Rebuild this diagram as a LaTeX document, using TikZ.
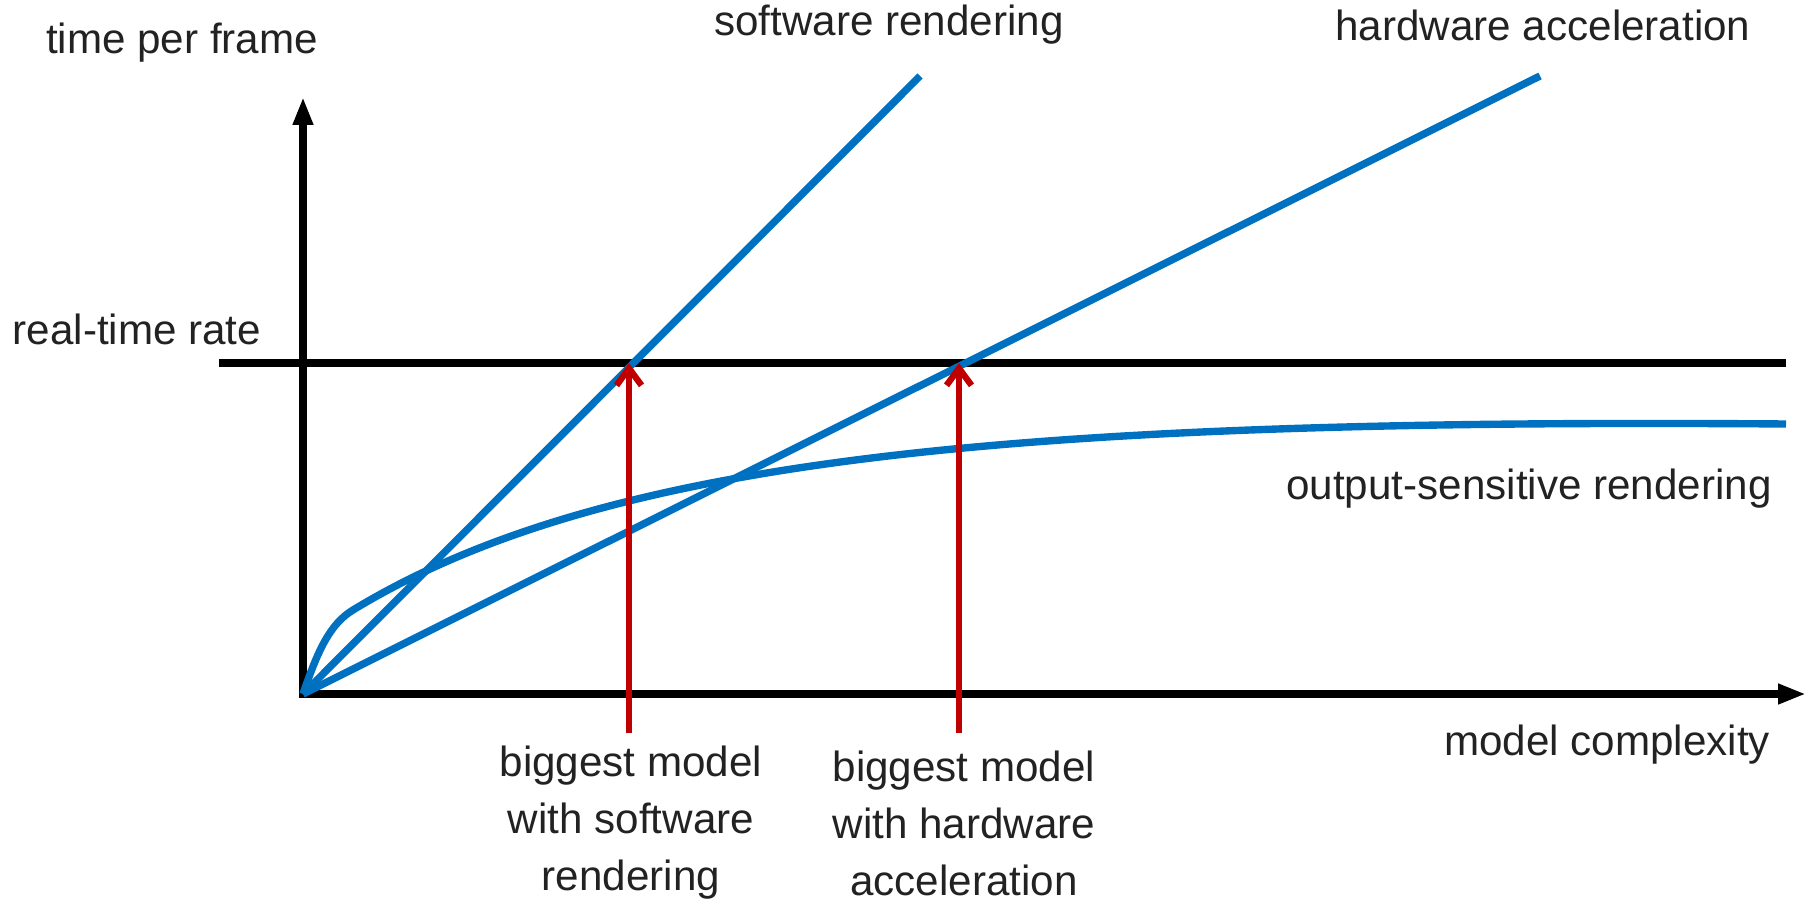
\documentclass[tikz,border=0pt]{standalone}
\usepackage{fontspec}
\setmainfont{Liberation Sans}
\usetikzlibrary{arrows.meta, positioning}
\definecolor{curveblue}{RGB}{0,112,192}
\definecolor{limitred}{RGB}{192,0,0}
\definecolor{labelgray}{RGB}{34,34,34}

\begin{document}
\begin{tikzpicture}[
    x=0.1mm, y=-0.1mm,
    axis/.style={line width=2pt, {Triangle[length=2.8mm, width=1.9mm]}-{Triangle[length=2.8mm, width=1.9mm]}},
    rateline/.style={line width=2pt},
    curve/.style={line width=2.1pt, color=curveblue},
    limitarr/.style={line width=1.8pt, color=limitred, -{Straight Barb[length=1.7mm, width=2.5mm]}},
    lbl/.style={font=\fontsize{12}{16.2}\selectfont, text=labelgray, inner sep=0pt, align=center}
]
\useasboundingbox (0,0) rectangle (1810,903);

\coordinate (origin) at (303,694);
\coordinate (ytop) at (303,97);
\coordinate (xend) at (1806,694);
\coordinate (rateL) at (219,363);
\coordinate (rateR) at (1786,363);
\coordinate (swHit) at (629,363);
\coordinate (hwHit) at (959,363);
\coordinate (swEnd) at (920,76);
\coordinate (hwEnd) at (1540,76);
\coordinate (swFoot) at (629,733);
\coordinate (hwFoot) at (959,733);
\coordinate (bend) at (353,610);
\coordinate (osEnd) at (1786,424);

% axes and real-time level
\draw[axis] (ytop) -- (origin) -- (xend);
\draw[rateline] (rateL) -- (rateR);

% cost curves
\draw[curve] (origin) -- (swEnd);
\draw[curve] (origin) -- (hwEnd);
\draw[curve] (origin) .. controls (318,650) and (330,624) .. (bend)
    .. controls (600,460) and (1000,418) .. (osEnd);

% limits
\draw[limitarr] (swFoot) -- (swHit);
\draw[limitarr] (hwFoot) -- (hwHit);

\node[lbl] (ylab) at (182,43) {time per frame};
\node[lbl] (xlab) at (1607,745) {model complexity};
\node[lbl] (ratelab) at (137,329) {real-time rate};
\node[lbl] (swlab) at (889,25) {software rendering};
\node[lbl] (hwlab) at (1543,25) {hardware acceleration};
\node[lbl] (oslab) at (1529,489) {output-sensitive rendering};
\node[lbl] (swmax) at (631,823) {biggest model\\with software\\rendering};
\node[lbl] (hwmax) at (964,823) {biggest model\\with hardware\\acceleration};
\end{tikzpicture}
\end{document}
